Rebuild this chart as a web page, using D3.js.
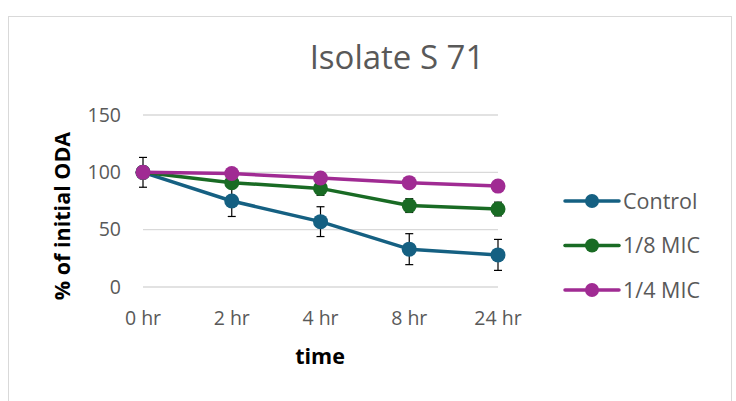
<!DOCTYPE html>
<html>
<head>
<meta charset="utf-8">
<script src="https://cdn.jsdelivr.net/npm/d3@7"></script>
<style>
  body { margin: 0; background: #fff; }
  svg text { font-family: "Open Sans", "Noto Sans", sans-serif; }
</style>
</head>
<body>
<div class="chart"></div>
<script>
// chart values
var times = ["0 hr", "2 hr", "4 hr", "8 hr", "24 hr"];
var control = [100, 75, 57, 33, 28];
var controlErr = [13, 13.5, 13, 13.5, 13.5];
var mic8 = [100, 91, 86, 71, 68];
var mic8Err = [0, 4.5, 6, 6, 6];
var mic4 = [100, 99, 95, 91, 88];
var mic4Err = [0, 1, 1, 1, 1];
var yTicks = [0, 50, 100, 150];

var series = [
  {name: "Control", color: "#156082", values: control, err: controlErr},
  {name: "1/8 MIC", color: "#196B24", values: mic8, err: mic8Err},
  {name: "1/4 MIC", color: "#A02B93", values: mic4, err: mic4Err}
];

var width = 736, height = 401;

var svg = d3.select(".chart").append("svg")
  .attr("width", width)
  .attr("height", height);

// outer chart frame
svg.append("rect")
  .attr("x", 8.5).attr("y", 16.5)
  .attr("width", 723).attr("height", 400)
  .attr("fill", "#fff")
  .attr("stroke", "#d9d9d9");

var x = d3.scalePoint().domain(times).range([143, 498]);
var y = d3.scaleLinear().domain([0, 150]).range([287, 115]);

// gridlines
svg.append("g").selectAll("line")
  .data(yTicks).enter().append("line")
  .attr("x1", 143).attr("x2", 498)
  .attr("y1", function(d){ return y(d); })
  .attr("y2", function(d){ return y(d); })
  .attr("stroke", "#d9d9d9")
  .attr("stroke-width", 1.3);

// y tick labels
svg.append("g").selectAll("text")
  .data(yTicks).enter().append("text")
  .attr("x", 121)
  .attr("y", function(d){ return y(d); })
  .attr("dy", "0.35em")
  .attr("text-anchor", "end")
  .attr("fill", "#595959")
  .attr("font-size", 19.5)
  .text(function(d){ return d; });

// x tick labels
svg.append("g").selectAll("text")
  .data(times).enter().append("text")
  .attr("x", function(d){ return x(d); })
  .attr("y", 325)
  .attr("text-anchor", "middle")
  .attr("fill", "#595959")
  .attr("font-size", 19.5)
  .text(function(d){ return d; });

// title and axis titles
svg.append("text")
  .attr("x", 397).attr("y", 69)
  .attr("text-anchor", "middle")
  .attr("fill", "#595959")
  .attr("font-size", 33)
  .text("Isolate S 71");

svg.append("text")
  .attr("x", 320).attr("y", 364)
  .attr("text-anchor", "middle")
  .attr("font-weight", "bold")
  .attr("font-size", 21.5)
  .attr("fill", "#000")
  .text("time");

svg.append("text")
  .attr("transform", "translate(70,216) rotate(-90)")
  .attr("text-anchor", "middle")
  .attr("font-weight", "bold")
  .attr("font-size", 21.5)
  .attr("fill", "#000")
  .text("% of initial ODA");

var line = d3.line()
  .x(function(d, i){ return x(times[i]); })
  .y(function(d){ return y(d); });

series.forEach(function(s){
  var g = svg.append("g");
  g.append("path")
    .attr("d", line(s.values))
    .attr("fill", "none")
    .attr("stroke", s.color)
    .attr("stroke-width", 3.5)
    .attr("stroke-linejoin", "round");

  // error bars
  var eb = g.selectAll(".err")
    .data(s.values.map(function(v, i){ return {t: times[i], v: v, e: s.err[i]}; })
      .filter(function(d){ return d.e > 0; }))
    .enter().append("g")
    .attr("stroke", "#000")
    .attr("stroke-width", 1.2);
  eb.append("line")
    .attr("x1", function(d){ return x(d.t); })
    .attr("x2", function(d){ return x(d.t); })
    .attr("y1", function(d){ return y(d.v + d.e); })
    .attr("y2", function(d){ return y(d.v - d.e); });
  [1, -1].forEach(function(sign){
    eb.append("line")
      .attr("x1", function(d){ return x(d.t) - 4; })
      .attr("x2", function(d){ return x(d.t) + 4; })
      .attr("y1", function(d){ return y(d.v + sign * d.e); })
      .attr("y2", function(d){ return y(d.v + sign * d.e); });
  });

  g.selectAll("circle")
    .data(s.values).enter().append("circle")
    .attr("cx", function(d, i){ return x(times[i]); })
    .attr("cy", function(d){ return y(d); })
    .attr("r", 7.5)
    .attr("fill", s.color);
});

// legend
var legend = svg.selectAll(".legend")
  .data(series).enter().append("g")
  .attr("class", "legend")
  .attr("transform", function(d, i){ return "translate(565," + (201 + i * 44.5) + ")"; });
legend.append("line")
  .attr("x1", 0).attr("x2", 54)
  .attr("stroke", function(d){ return d.color; })
  .attr("stroke-width", 3.5)
  .attr("stroke-linecap", "round");
legend.append("circle")
  .attr("cx", 27).attr("r", 7)
  .attr("fill", function(d){ return d.color; });
legend.append("text")
  .attr("x", 58).attr("dy", "0.35em")
  .attr("fill", "#595959")
  .attr("font-size", 21.5)
  .text(function(d){ return d.name; });
</script>
</body>
</html>
